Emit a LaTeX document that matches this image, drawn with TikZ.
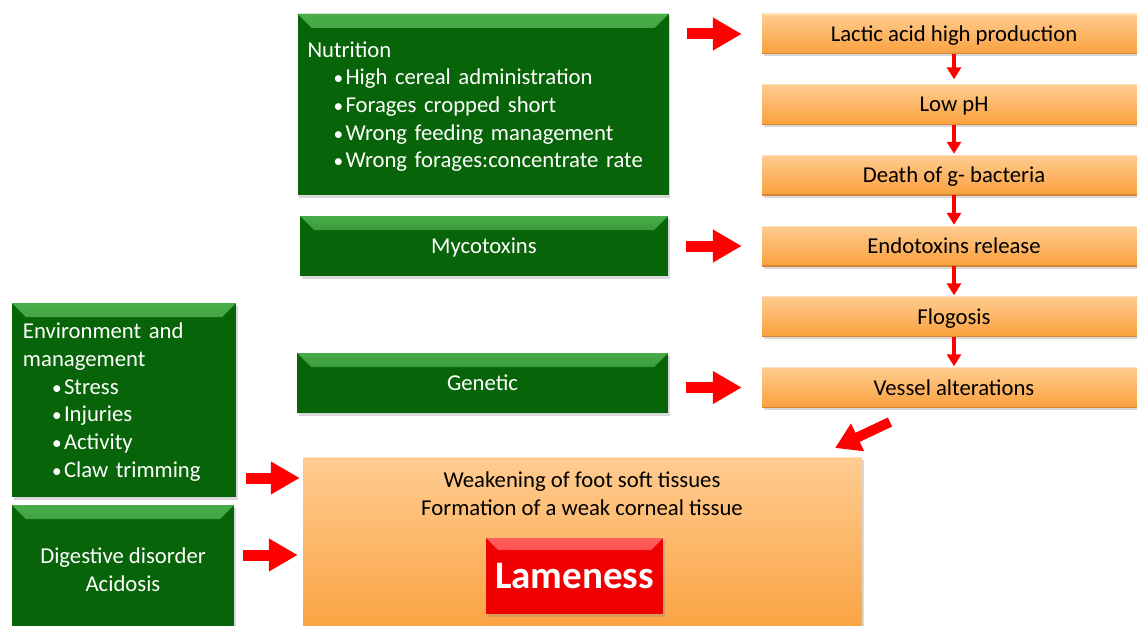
\documentclass[tikz,border=0pt]{standalone}
\usepackage{fontspec}
\setmainfont{Carlito}
\usetikzlibrary{arrows.meta,shadows,calc}
\definecolor{gdark}{RGB}{8,100,8}
\definecolor{glight}{RGB}{72,172,72}
\definecolor{otop}{RGB}{255,204,145}
\definecolor{obot}{RGB}{250,160,60}
\definecolor{oedge}{RGB}{214,134,52}
\definecolor{rtop}{RGB}{255,95,95}
\definecolor{rbot}{RGB}{240,0,0}
\definecolor{arrowred}{RGB}{255,0,0}
\tikzset{
  txt/.style={font=\fontsize{22.7}{27.7}\selectfont},
  oneline/.style={text depth=0pt},
  shade/.style={drop shadow={shadow xshift=1.5pt,shadow yshift=-2.5pt,opacity=.3}},
  greenbox/.style={txt,fill=gdark,draw=none,text=white,shade,
    path picture={
      \fill[top color=glight,bottom color=gdark]
        (path picture bounding box.north west) -- (path picture bounding box.north east)
        -- ([shift={(-14pt,-14pt)}]path picture bounding box.north east)
        -- ([shift={(14pt,-14pt)}]path picture bounding box.north west) -- cycle;}},
  orangebox/.style={txt,top color=otop,bottom color=obot,draw=none,text=black,shade,
    path picture={
      \draw[oedge,line width=2pt] (path picture bounding box.south west) -- (path picture bounding box.south east);
      \draw[otop!60!white,line width=1.5pt] (path picture bounding box.north west) -- (path picture bounding box.north east);}},
  chainbox/.style={orangebox,oneline,minimum width=384pt,minimum height=40pt},
  redbox/.style={fill=rbot,draw=none,text=white,shade,
    path picture={
      \fill[top color=rtop,bottom color=rbot]
        (path picture bounding box.north west) -- (path picture bounding box.north east)
        -- ([shift={(-12pt,-12pt)}]path picture bounding box.north east)
        -- ([shift={(12pt,-12pt)}]path picture bounding box.north west) -- cycle;}},
  bigarrow/.style={draw=arrowred,line width=11pt,-{Triangle[width=31pt,length=29pt]}},
  diagarrow/.style={draw=arrowred,line width=10pt,-{Triangle[width=29pt,length=25pt]}},
  smallarrow/.style={draw=arrowred,line width=4pt,-{Triangle[width=14pt,length=12pt]}},
}
\newcommand\bul[1]{\makebox[12pt][l]{\scalebox{0.85}{\textbullet}}#1}
\newcommand\topstrut{\rule{0pt}{20pt}}
\begin{document}
\begin{tikzpicture}[x=1pt,y=-1pt]
\clip (0,0) rectangle (1137,626);
\fill[white] (0,0) rectangle (1137,626);
% green cause boxes
\node[greenbox,minimum width=371pt,minimum height=181pt,text width=351pt,align=left,inner xsep=10pt] (nutr) at (483,104.5)
  {\topstrut Nutrition\\
   \hspace*{26pt}\bul{High cereal administration}\\
   \hspace*{26pt}\bul{Forages cropped short}\\
   \hspace*{26pt}\bul{Wrong feeding management}\\
   \hspace*{26pt}\bul{Wrong forages:concentrate rate}};
\node[greenbox,oneline,minimum width=368pt,minimum height=60pt] (myco) at (484,246) {Mycotoxins};
\node[greenbox,oneline,minimum width=371pt,minimum height=60pt] (gen) at (482.5,383) {Genetic};
\node[greenbox,minimum width=224pt,minimum height=194pt,text width=202pt,align=left,inner xsep=11pt] (env) at (124,400)
  {\topstrut Environment and\\management\\
   \hspace*{29pt}\bul{Stress}\\
   \hspace*{29pt}\bul{Injuries}\\
   \hspace*{29pt}\bul{Activity}\\
   \hspace*{29pt}\bul{Claw trimming}};
\node[greenbox,minimum width=222pt,minimum height=125pt,align=center] (dig) at (123,567.5)
  {\topstrut Digestive disorder\\Acidosis};
% orange chain
\node[chainbox] (b1) at (954,34) {Lactic acid high production};
\node[chainbox] (b2) at (954,104.5) {Low pH};
\node[chainbox] (b3) at (954,175) {Death of g- bacteria};
\node[chainbox] (b4) at (954,246) {Endotoxins release};
\node[chainbox] (b5) at (954,316.5) {Flogosis};
\node[chainbox] (b6) at (954,387.5) {Vessel alterations};
% big effect box
\node[orangebox,minimum width=559pt,minimum height=185pt] (big) at (582.5,549.5) {};
\node[txt,align=center,text=black] (bigtext) at (582,494) {Weakening of foot soft tissues\\Formation of a weak corneal tissue};
\node[redbox,minimum width=177pt,minimum height=76pt,font=\bfseries\fontsize{39}{41}\selectfont] (lame) at (574.5,576) {Lameness};
% arrows
\draw[smallarrow,shorten >=5pt] (b1.south) -- (b2.north);
\draw[smallarrow,shorten >=1pt] (b2.south) -- (b3.north);
\draw[smallarrow,shorten >=1pt] (b3.south) -- (b4.north);
\draw[smallarrow,shorten >=1pt] (b4.south) -- (b5.north);
\draw[smallarrow,shorten >=1pt] (b5.south) -- (b6.north);
\draw[bigarrow,shorten <=18pt,shorten >=20pt] (nutr.east |- b1.west) -- (b1.west);
\draw[bigarrow,shorten <=18pt,shorten >=20pt] (myco.east |- b4.west) -- (b4.west);
\draw[bigarrow,shorten <=18pt,shorten >=20pt] (gen.east |- b6.west) -- (b6.west);
\draw[bigarrow,shorten <=10pt,shorten >=3pt] (env.east |- 0,478) -- (big.west |- 0,478);
\draw[bigarrow,shorten <=9pt,shorten >=5pt] (dig.east |- 0,555) -- (big.west |- 0,555);
\coordinate (da) at (890,422);
\coordinate (db) at (835,448);
\draw[diagarrow] (da) -- (db);
\end{tikzpicture}
\end{document}
